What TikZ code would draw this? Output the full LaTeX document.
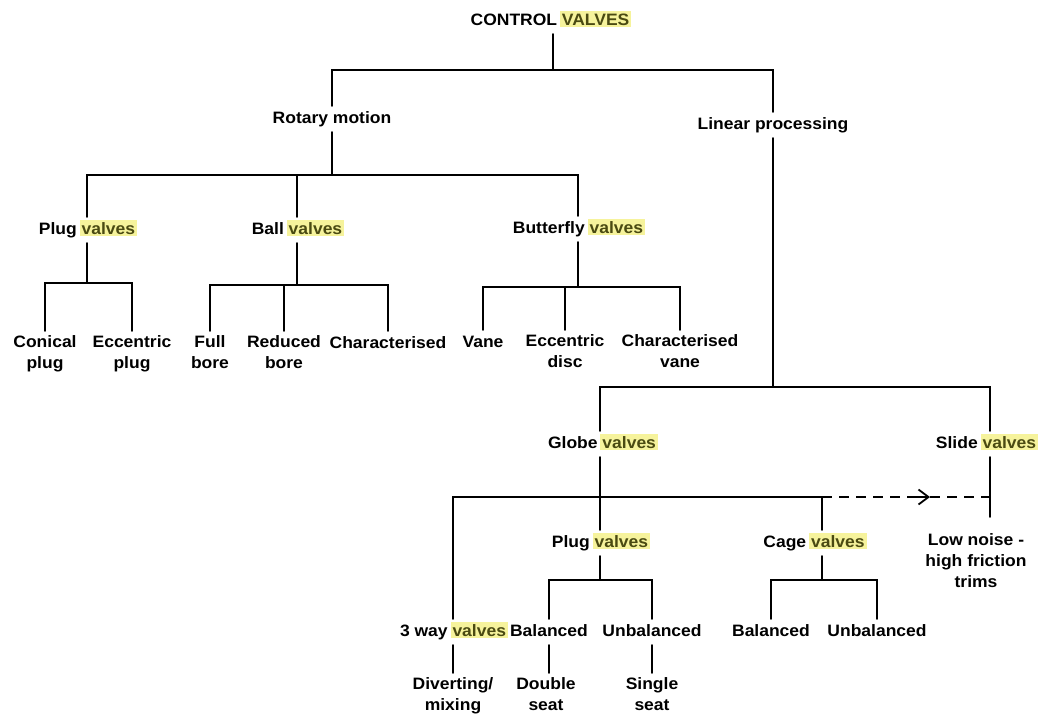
\documentclass[tikz,border=0pt]{standalone}
\usepackage{fontspec}
\setmainfont{Liberation Sans}[FakeStretch=1.06]
\usetikzlibrary{arrows.meta}
\definecolor{hly}{HTML}{F6F39C}
\definecolor{hlt}{HTML}{4A4A12}
\newcommand\hv[1]{\hspace{-2pt}{\setlength{\fboxsep}{2pt}\colorbox{hly}{\color{hlt}#1}}\hspace{-2pt}}
\tikzset{
  lblbase/.style={font=\fontsize{16.5}{21}\selectfont\bfseries, inner sep=0pt, outer sep=5pt,
    align=center, anchor=north},
  lbl/.style={lblbase, text height=12pt, text depth=4pt},
  lbltwo/.style={lblbase},
  conn/.style={line width=1.6pt, line cap=round},
  dashconn/.style={line width=1.6pt, dash pattern=on 10pt off 7pt}
}
\begin{document}
\begin{tikzpicture}[x=1pt,y=-1pt]
\useasboundingbox[fill=white] (0,0) rectangle (1045,713);
% nodes
\node[lbl] (title) at (550,8) {CONTROL \hv{VALVES}};
\node[lbl] (rot) at (332,106) {Rotary motion};
\node[lbl] (lin) at (773,112) {Linear processing};
\node[lbl] (pv1) at (87,217) {Plug \hv{valves}};
\node[lbl] (bv) at (297,217) {Ball \hv{valves}};
\node[lbl] (fv) at (578,216) {Butterfly \hv{valves}};
\node[lbltwo] (conical) at (45,331) {Conical\\plug};
\node[lbltwo] (ecc) at (132,331) {Eccentric\\plug};
\node[lbltwo] (full) at (210,331) {Full\\bore};
\node[lbltwo] (red) at (284,331) {Reduced\\bore};
\node[lbl] (char) at (388,331) {Characterised};
\node[lbl] (vane) at (483,330) {Vane};
\node[lbltwo] (eccd) at (565,330) {Eccentric\\disc};
\node[lbltwo] (charv) at (680,330) {Characterised\\vane};
\node[lbl] (globe) at (602,431) {Globe \hv{valves}};
\node[lbl] (slide) at (986,431) {Slide \hv{valves}};
\node[lbl] (pv2) at (600,530) {Plug \hv{valves}};
\node[lbl] (cage) at (814,530) {Cage \hv{valves}};
\node[lbltwo] (lown) at (976,529) {Low noise -\\high friction\\trims};
\node[lbl] (way3) at (453,619) {3 way \hv{valves}};
\node[lbl] (bal1) at (549,619) {Balanced};
\node[lbl] (unb1) at (652,619) {Unbalanced};
\node[lbl] (bal2) at (771,619) {Balanced};
\node[lbl] (unb2) at (877,619) {Unbalanced};
\node[lbltwo] (div) at (453,673) {Diverting/\\mixing};
\node[lbltwo] (dbl) at (546,673) {Double\\seat};
\node[lbltwo] (sgl) at (652,673) {Single\\seat};
% junction levels
\coordinate (b0) at (553,70);
\coordinate (b1) at (332,175);
\coordinate (b2) at (87,283);
\coordinate (b3) at (297,285);
\coordinate (b4) at (578,287);
\coordinate (b5) at (773,387);
\coordinate (b6) at (600,497);
\coordinate (b7) at (600,580);
\coordinate (b8) at (822,580);
\coordinate (gN) at ([xshift=-2pt]globe.north);
\coordinate (gS) at ([xshift=-2pt]globe.south);
\coordinate (sN) at ([xshift=4pt]slide.north);
\coordinate (sS) at ([xshift=4pt]slide.south);
\coordinate (cN) at ([xshift=8pt]cage.north);
\coordinate (cS) at ([xshift=8pt]cage.south);
\coordinate (amid) at (930,497);
% connectors
\draw[conn] (b0 |- title.south) -- (b0);
\draw[conn] (rot.north) |- (b0) -| (lin.north);
\draw[conn] (rot.south) -- (rot.south |- b1);
\draw[conn] (pv1.north) |- (b1) -| (fv.north);
\draw[conn] (bv.north) -- (bv.north |- b1);
\draw[conn] (pv1.south) -- (pv1.south |- b2);
\draw[conn] (conical.north) |- (b2) -| (ecc.north);
\draw[conn] (bv.south) -- (bv.south |- b3);
\draw[conn] (full.north) |- (b3) -| (char.north);
\draw[conn] (red.north) -- (red.north |- b3);
\draw[conn] (fv.south) -- (fv.south |- b4);
\draw[conn] (vane.north) |- (b4) -| (charv.north);
\draw[conn] (eccd.north) -- (eccd.north |- b4);
\draw[conn] (lin.south) -- (lin.south |- b5);
\draw[conn] (gN) |- (b5) -| (sN);
\draw[conn] (gS) -- (gS |- b6);
\draw[conn] (way3.north) |- (b6) -| (cN);
\draw[conn] (pv2.north) -- (pv2.north |- b6);
\draw[dashconn] (cN |- b6) -- ([xshift=-14pt]amid);
\draw[line width=1.6pt, -{Straight Barb[length=10pt,width=15pt,line width=1.8pt]}] ([xshift=-14pt]amid) -- (amid);
\draw[dashconn] (amid) -- (sS |- b6);
\draw[conn, shorten >=12pt] (sS) -- (sS |- lown.north);
\draw[conn] (pv2.south) -- (pv2.south |- b7);
\draw[conn] (bal1.north) |- (b7) -| (unb1.north);
\draw[conn] (cS) -- (cS |- b8);
\draw[conn] (bal2.north) |- (b8) -| (unb2.north);
\draw[conn] (way3.south) -- (div.north);
\draw[conn] (bal1.south) -- (bal1.south |- dbl.north);
\draw[conn] (unb1.south) -- (sgl.north);
\end{tikzpicture}
\end{document}
